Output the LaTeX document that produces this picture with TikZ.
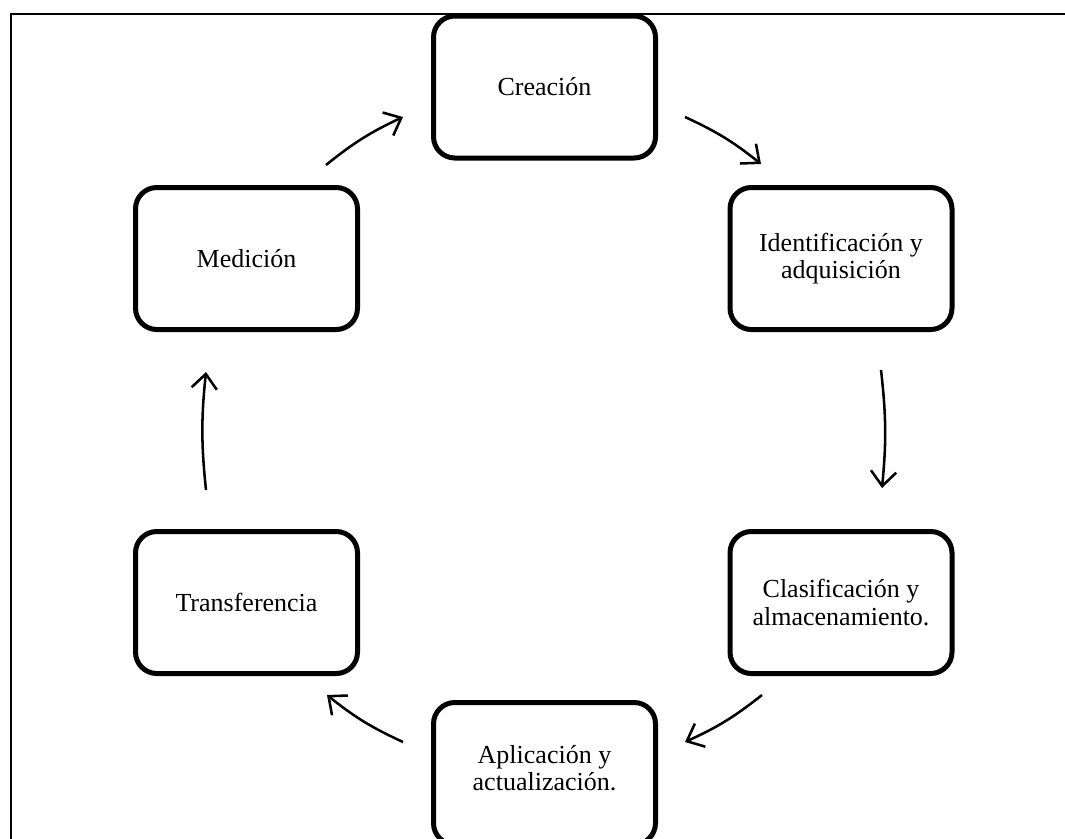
\documentclass[tikz,border=0pt]{standalone}
\usepackage{fontspec}
\setmainfont{Liberation Serif}
\usetikzlibrary{arrows.meta}
\begin{document}
\begin{tikzpicture}[x=0.75pt,y=-0.75pt,
  stagebox/.style={draw=black, line width=3.75pt, rounded corners=16pt,
    minimum width=166.5pt, minimum height=106.5pt, inner sep=0pt,
    align=center, font=\fontsize{19.5pt}{20.5pt}\selectfont},
  cyc/.style={line width=1.9pt, -{Straight Barb[length=11pt,width=19pt,line width=1.9pt]}},
  frameline/.style={line width=1.5pt}]
\useasboundingbox (0,0) rectangle (1065,839);
\begin{scope}
\clip (0,0) rectangle (1065,839);
\draw[frameline] (1070,14) -- (11,14) -- (11,850);
\node[stagebox] (cre) at (544.5,87) {Creación};
\node[stagebox] (ide) at (841,258.5) {Identificación y\\adquisición};
\node[stagebox] (cla) at (841,602.5) {Clasificación y\\almacenamiento.};
\node[stagebox, text depth=8pt] (apl) at (544.5,773.5) {Aplicación y\\actualización.};
\node[stagebox] (tra) at (246.5,602.5) {Transferencia};
\node[stagebox] (med) at (246.5,258.5) {Medición};
\end{scope}
\coordinate (a1s) at (326,165);
\coordinate (a1e) at (403,117);
\coordinate (a2s) at (685,117);
\coordinate (a2e) at (761,164);
\coordinate (a3s) at (881,370);
\coordinate (a3e) at (882,488);
\coordinate (a4s) at (762,695);
\coordinate (a4e) at (685,742);
\coordinate (a5s) at (403,742);
\coordinate (a5e) at (327,695);
\coordinate (a6s) at (206,490);
\coordinate (a6e) at (206,372);
\draw[cyc] (a1s) to[bend left=7] (a1e);
\draw[cyc] (a2s) to[bend left=7] (a2e);
\draw[cyc] (a3s) to[bend left=6] (a3e);
\draw[cyc] (a4s) to[bend left=7] (a4e);
\draw[cyc] (a5s) to[bend left=7] (a5e);
\draw[cyc] (a6s) to[bend left=6] (a6e);
\end{tikzpicture}
\end{document}
